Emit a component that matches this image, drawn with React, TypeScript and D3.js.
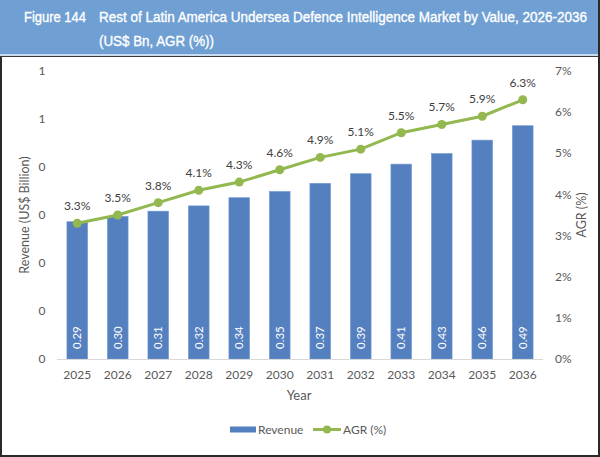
import * as d3 from 'd3';

const years = ['2025', '2026', '2027', '2028', '2029', '2030', '2031', '2032', '2033', '2034', '2035', '2036'];
const revenue = [0.286, 0.297, 0.308, 0.319, 0.336, 0.349, 0.366, 0.386, 0.406, 0.428, 0.456, 0.486];
const agr = [3.3, 3.5, 3.8, 4.1, 4.3, 4.6, 4.9, 5.1, 5.5, 5.7, 5.9, 6.3];
const revenueTicks = [0, 0.1, 0.2, 0.3, 0.4, 0.5, 0.6];
const agrTicks = [0, 1, 2, 3, 4, 5, 6, 7];

const W = 600;
const H = 457;
const [mt, mr, mb, ml] = [71, 57, 98, 57];
const font = 'Lato, "Open Sans", sans-serif';
const txt = '#595959';

export default function App() {
    const x = d3.scaleBand().domain(years).range([ml, W - mr]).paddingInner(0.49).paddingOuter(0.245);
    const yL = d3.scaleLinear().domain([0, 0.6]).range([H - mb, mt]);
    const yR = d3.scaleLinear().domain([0, 7]).range([H - mb, mt]);
    const cx = (d: string) => x(d)! + x.bandwidth() / 2;
    const line = d3
        .line<number>()
        .x((_, i) => cx(years[i]))
        .y((d) => yR(d));

    return (
        <svg width={W} height={H} style={{ position: 'absolute', left: 0, top: 0, display: 'block' }} fontFamily={font}>
            <rect x={0} y={0} width={W} height={H} fill="#fff" />
            {/* title band */}
            <rect x={0} y={0} width={W} height={54} fill="#6f9fd3" />
            <line x1={0} x2={W} y1={55} y2={55} stroke="#c9dcef" strokeWidth={2} />
            <line x1={0} x2={W} y1={56.5} y2={56.5} stroke="#3a3a3a" strokeWidth={1} />
            <g
                fill="#fff"
                stroke="#fff"
                strokeWidth={0.35}
                fontFamily='"Liberation Sans", Arial, sans-serif'
                fontSize={14}
            >
                <text x={24} y={22} textLength={62} lengthAdjust="spacingAndGlyphs">
                    Figure 144
                </text>
                <text x={99} y={22} textLength={488} lengthAdjust="spacingAndGlyphs">
                    Rest of Latin America Undersea Defence Intelligence Market by Value, 2026-2036
                </text>
                <text x={99} y={46} textLength={115} lengthAdjust="spacingAndGlyphs">
                    (US$ Bn, AGR (%))
                </text>
            </g>
            {/* frame */}
            <line x1={1} x2={1} y1={57} y2={H} stroke="#2a2a2a" strokeWidth={2} />
            <line x1={W - 1} x2={W - 1} y1={0} y2={H} stroke="#2a2a2a" strokeWidth={2} />
            <line x1={0} x2={W} y1={H - 1} y2={H - 1} stroke="#2a2a2a" strokeWidth={2} />

            {/* bars */}
            {years.map((yr, i) => (
                <rect
                    key={yr}
                    x={x(yr)}
                    y={yL(revenue[i])}
                    width={x.bandwidth()}
                    height={yL(0) - yL(revenue[i])}
                    fill="#5580c0"
                    stroke="#7098d0"
                    strokeWidth={0.6}
                />
            ))}
            {years.map((yr, i) => (
                <text
                    key={yr}
                    transform={`translate(${cx(yr) + 4},${yL(0) - 10}) rotate(-90)`}
                    fill="#fff"
                    fontSize={11.5}
                >
                    {revenue[i].toFixed(2)}
                </text>
            ))}

            {/* baseline */}
            <line x1={ml} x2={W - mr} y1={yL(0) + 0.5} y2={yL(0) + 0.5} stroke="#d9d9d9" />

            {/* AGR line */}
            <path d={line(agr)!} fill="none" stroke="#92b84f" strokeWidth={3} />
            {agr.map((v, i) => (
                <circle key={i} cx={cx(years[i])} cy={yR(v)} r={4.5} fill="#92b84f" />
            ))}
            {agr.map((v, i) => (
                <text key={i} x={cx(years[i])} y={yR(v) - 13} textAnchor="middle" fill="#404040" fontSize={12}>
                    {v.toFixed(1)}%
                </text>
            ))}

            {/* left axis */}
            {revenueTicks.map((t) => (
                <text key={t} x={42} y={yL(t)} dy="0.35em" textAnchor="middle" fill={txt} fontSize={12}>
                    {t.toFixed(0)}
                </text>
            ))}
            <text transform={`translate(25,${(mt + H - mb) / 2}) rotate(-90)`} textAnchor="middle" dy="0.35em" fill={txt} fontSize={12.5}>
                Revenue (US$ Billion)
            </text>

            {/* right axis */}
            {agrTicks.map((t) => (
                <text key={t} x={555} y={yR(t)} dy="0.35em" fill={txt} fontSize={12}>
                    {t}%
                </text>
            ))}
            <text transform={`translate(582,${(mt + H - mb) / 2}) rotate(-90)`} textAnchor="middle" dy="0.35em" fill={txt} fontSize={12.5}>
                AGR (%)
            </text>

            {/* x axis */}
            {years.map((yr) => (
                <text key={yr} x={cx(yr)} y={375} dy="0.35em" textAnchor="middle" fill={txt} fontSize={12}>
                    {yr}
                </text>
            ))}
            <text x={299} y={395} dy="0.35em" textAnchor="middle" fill={txt} fontSize={13}>
                Year
            </text>

            {/* legend */}
            <rect x={230} y={426.5} width={26} height={6} fill="#5580c0" />
            <text x={258} y={429.5} dy="0.35em" fill={txt} fontSize={12}>
                Revenue
            </text>
            <line x1={313} x2={341} y1={429.5} y2={429.5} stroke="#92b84f" strokeWidth={3} />
            <circle cx={327} cy={429.5} r={4} fill="#92b84f" />
            <text x={343} y={429.5} dy="0.35em" fill={txt} fontSize={12}>
                AGR (%)
            </text>
        </svg>
    );
}
